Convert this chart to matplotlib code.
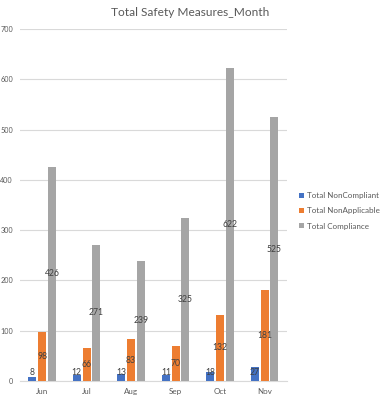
import matplotlib
matplotlib.use("Agg")
import matplotlib.pyplot as plt
import numpy as np

plt.rcParams["font.family"] = ["Lato", "DejaVu Sans"]

months = ["Jun", "Jul", "Aug", "Sep", "Oct", "Nov"]
non_compliant = [8, 12, 13, 11, 18, 27]
non_applicable = [98, 66, 83, 70, 132, 181]
compliance = [426, 271, 239, 325, 622, 525]
series_names = ["Total NonCompliant", "Total NonApplicable", "Total Compliance"]
colors = ["#4472C4", "#ED7D31", "#A5A5A5"]

fig = plt.figure(figsize=(3.82, 4.0), dpi=100)
ax = fig.add_axes([0.052, 0.0475, 0.699, 0.88])

x = np.arange(len(months))
w = 0.18
off = 0.22
txt = "#404040"
for i, (vals, name, c) in enumerate(zip([non_compliant, non_applicable, compliance], series_names, colors)):
    pos = x + (i - 1) * off
    ax.bar(pos, vals, width=w, color=c, label=name, zorder=3)
    for p, v in zip(pos, vals):
        ax.text(p, max(v / 2, 17), str(v), ha="center", va="center", fontsize=6.2, color=txt, zorder=4)

ax.set_xlim(-0.5, 5.5)
ax.set_ylim(0, 700)
ax.set_yticks(range(0, 701, 100))
ax.set_xticks(x)
ax.set_xticklabels(months)
ax.grid(axis="y", color="#D9D9D9", linewidth=0.8, zorder=0)
for s in ["top", "right", "left"]:
    ax.spines[s].set_visible(False)
ax.spines["bottom"].set_color("#D9D9D9")
ax.tick_params(axis="both", length=0, labelsize=5.2, colors="#595959")
ax.tick_params(axis="x", labelsize=5.8)
ax.tick_params(axis="y", pad=5)
ax.tick_params(axis="x", pad=5)

fig.text(0.497, 0.97, "Total Safety Measures_Month", ha="center", va="center", fontsize=8.6, color="#595959")

leg = ax.legend(loc="center left", bbox_to_anchor=(1.02, 0.483), frameon=False, fontsize=5.8,
                handlelength=0.55, handleheight=0.55, handletextpad=0.35, labelspacing=1.0)
for t in leg.get_texts():
    t.set_color("#595959")

fig.savefig("out.png", dpi=100)
